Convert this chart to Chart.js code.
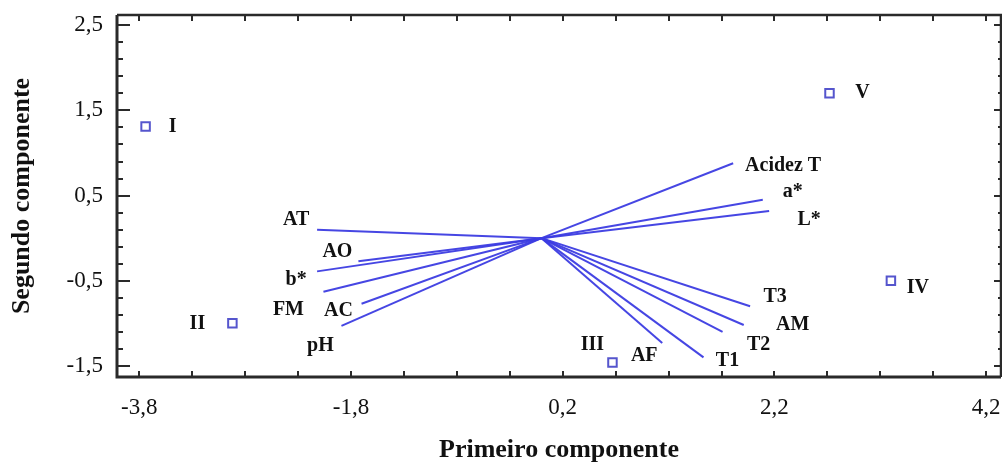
<!DOCTYPE html>
<html>
<head>
<meta charset="utf-8">
<script src="https://cdn.jsdelivr.net/npm/chart.js@4.4.0/dist/chart.umd.min.js"></script>
<style>
    html, body { margin: 0; padding: 0; background: #fff; overflow: hidden; }
    #wrap { position: relative; width: 1002px; height: 469px; }
</style>
</head>
<body>
<div id="wrap"><canvas id="biplot"></canvas></div>
<script>
// samples (scores)
const obsLabels = ['I', 'II', 'III', 'IV', 'V'];
const obsX = [-3.74, -2.92, 0.67, 3.30, 2.72];
const obsY = [1.31, -1.00, -1.46, -0.50, 1.70];

// variables (loadings, drawn as rays from the origin)
const varLabels = ['Acidez T', 'a*', 'L*', 'T3', 'AM', 'T2', 'AF', 'T1', 'AT', 'AO', 'b*', 'FM', 'AC', 'pH'];
const varX = [1.81, 2.09, 2.15, 1.97, 1.91, 1.71, 1.14, 1.53, -2.12, -1.73, -2.12, -2.06, -1.70, -1.89];
const varY = [0.88, 0.45, 0.32, -0.80, -1.02, -1.10, -1.23, -1.40, 0.10, -0.27, -0.39, -0.63, -0.77, -1.03];

// axis tick labels
const xTicks = [-3.8, -1.8, 0.2, 2.2, 4.2];
const yTicks = [-1.5, -0.5, 0.5, 1.5, 2.5];

// label placement next to each mark (pixels)
const obsLabelOffset = [[27, 0], [-35, 0], [-20, -18], [27, 7], [33, -1]];
const varLabelOffset = [[50, 3], [30, -8], [40, 9], [25, -9], [49, 0], [36, 13], [-18, 13], [24, 3],
                        [-21, -10], [-21, -9], [-21, 8], [-35, 18], [-23, 7], [-21, 20]];

const serif = "'Liberation Serif', 'Times New Roman', serif";
const rayColor = 'rgba(60, 60, 225, 0.95)';
const markerColor = 'rgba(85, 85, 205, 1)';
const fmt = v => v.toFixed(1).replace('.', ',');

// frame + inward tick marks, on all four sides
const frameTicks = {
    id: 'frameTicks',
    afterDraw(chart) {
        const { ctx, chartArea: a, scales: { x, y } } = chart;
        ctx.save();
        ctx.strokeStyle = '#2a2a2a';

        const xStep = (xTicks[1] - xTicks[0]) / 4;
        const yStep = (yTicks[1] - yTicks[0]) / 5;

        ctx.lineWidth = 2;
        for (let v = xTicks[0]; v <= x.max + 1e-9; v += xStep) {
            const px = Math.round(x.getPixelForValue(v));
            ctx.beginPath();
            ctx.moveTo(px, a.bottom); ctx.lineTo(px, a.bottom - 6);
            ctx.moveTo(px, a.top); ctx.lineTo(px, a.top + 6);
            ctx.stroke();
        }
        for (let v = yTicks[0]; v <= y.max + 1e-9; v += yStep) {
            const py = Math.round(y.getPixelForValue(v));
            const major = yTicks.some(t => Math.abs(t - v) < 1e-6);
            ctx.beginPath();
            ctx.moveTo(a.left, py); ctx.lineTo(a.left + (major ? 13 : 6), py);
            ctx.moveTo(a.right, py); ctx.lineTo(a.right - (major ? 7 : 3), py);
            ctx.stroke();
        }

        ctx.lineWidth = 3;
        ctx.beginPath();
        ctx.moveTo(a.left, a.top); ctx.lineTo(a.left, a.bottom); ctx.lineTo(a.right, a.bottom);
        ctx.stroke();
        ctx.lineWidth = 2.5;
        ctx.beginPath();
        ctx.moveTo(a.left, a.top); ctx.lineTo(a.right, a.top); ctx.lineTo(a.right, a.bottom);
        ctx.stroke();
        ctx.restore();
    }
};

// text labels beside points and ray ends
const markLabels = {
    id: 'markLabels',
    afterDatasetsDraw(chart) {
        const ctx = chart.ctx;
        ctx.save();
        ctx.font = 'bold 20px ' + serif;
        ctx.fillStyle = '#111';
        ctx.textAlign = 'center';
        ctx.textBaseline = 'middle';
        chart.data.datasets.forEach((ds, i) => {
            const meta = chart.getDatasetMeta(i);
            if (ds.kind === 'obs') {
                meta.data.forEach((pt, j) => {
                    ctx.fillText(obsLabels[j], pt.x + obsLabelOffset[j][0], pt.y + obsLabelOffset[j][1]);
                });
            } else {
                const end = meta.data[1];
                const k = ds.varIndex;
                ctx.fillText(varLabels[k], end.x + varLabelOffset[k][0], end.y + varLabelOffset[k][1]);
            }
        });
        ctx.restore();
    }
};

const datasets = varLabels.map((name, k) => ({
    kind: 'var',
    varIndex: k,
    label: name,
    data: [{ x: 0, y: 0 }, { x: varX[k], y: varY[k] }],
    showLine: true,
    borderColor: rayColor,
    borderWidth: 2,
    pointRadius: 0,
    fill: false
}));
datasets.push({
    kind: 'obs',
    label: 'Amostras',
    data: obsX.map((x, i) => ({ x: x, y: obsY[i] })),
    pointStyle: 'rect',
    pointRadius: 6,
    borderColor: markerColor,
    backgroundColor: 'rgba(255,255,255,0)',
    borderWidth: 2
});

new Chart(document.getElementById('biplot'), {
    type: 'scatter',
    data: { datasets: datasets },
    options: {
        responsive: true,
        maintainAspectRatio: false,
        animation: false,
        layout: { autoPadding: false, padding: { top: 15, right: 1, left: 0, bottom: 0 } },
        plugins: {
            legend: { display: false },
            tooltip: { enabled: false }
        },
        scales: {
            x: {
                type: 'linear',
                min: -4.01,
                max: 4.34,
                afterBuildTicks: scale => { scale.ticks = xTicks.map(v => ({ value: v })); },
                afterFit: scale => {
                    scale.height = 92;
                    scale.paddingLeft = 0;
                    scale.paddingRight = 0;
                },
                grid: { display: false, drawTicks: false },
                border: { display: false },
                ticks: {
                    autoSkip: false,
                    maxRotation: 0,
                    padding: 17,
                    color: '#111',
                    font: { family: serif, size: 23 },
                    callback: v => fmt(v)
                },
                title: {
                    display: true,
                    text: 'Primeiro componente',
                    color: '#111',
                    font: { family: serif, size: 26, weight: 'bold' },
                    padding: { top: 3, bottom: 3 }
                }
            },
            y: {
                type: 'linear',
                min: -1.63,
                max: 2.62,
                afterBuildTicks: scale => { scale.ticks = yTicks.map(v => ({ value: v })); },
                afterFit: scale => {
                    scale.width = 117;
                    scale.paddingTop = 0;
                    scale.paddingBottom = 0;
                },
                grid: { display: false, drawTicks: false },
                border: { display: false },
                ticks: {
                    autoSkip: false,
                    padding: 14,
                    color: '#111',
                    font: { family: serif, size: 23 },
                    callback: v => fmt(v)
                },
                title: {
                    display: true,
                    text: 'Segundo componente',
                    color: '#111',
                    font: { family: serif, size: 26, weight: 'bold' },
                    padding: { top: 7, bottom: 0 }
                }
            }
        }
    },
    plugins: [frameTicks, markLabels]
});
</script>
</body>
</html>
